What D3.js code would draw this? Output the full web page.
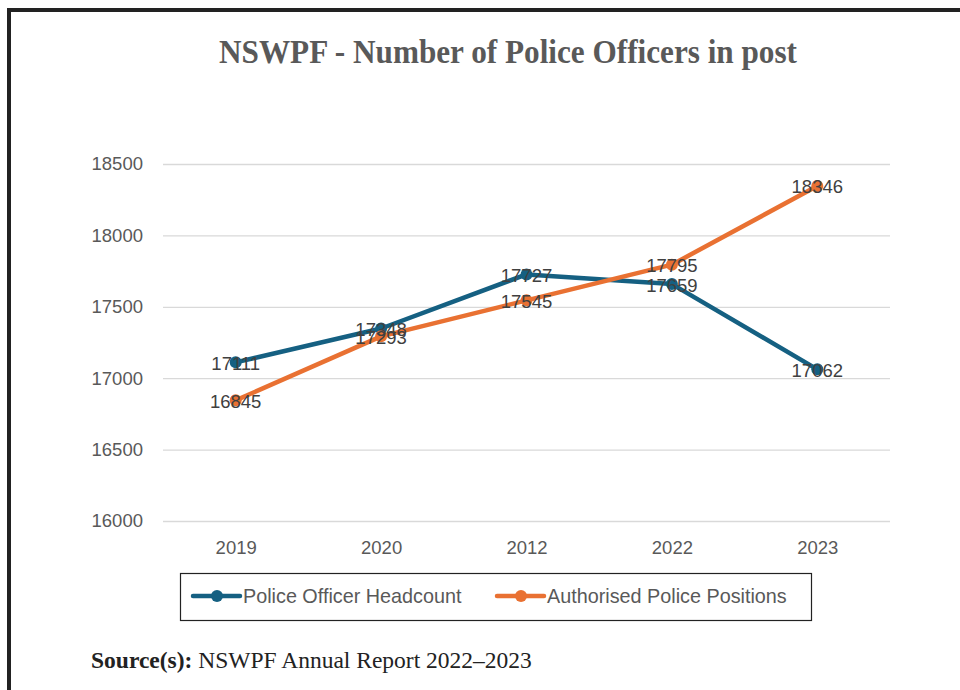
<!DOCTYPE html>
<html>
<head>
<meta charset="utf-8">
<script src="https://cdn.jsdelivr.net/npm/d3@7"></script>
<style>
  body { margin: 0; background: #fff; }
  svg { display: block; }
</style>
</head>
<body>
<svg id="chart"></svg>
<script>
// chart data
const years = ["2019", "2020", "2012", "2022", "2023"];
const headcount = [17111, 17348, 17727, 17659, 17062];
const authorised = [16845, 17293, 17545, 17795, 18346];
const yTicks = [16000, 16500, 17000, 17500, 18000, 18500];
const seriesNames = ["Police Officer Headcount", "Authorised Police Positions"];

const width = 960;
const height = 690;
const colors = ["#156082", "#E97132"];
const sans = "'Liberation Sans', Arial, sans-serif";
const serif = "'Liberation Serif', 'Times New Roman', serif";

const svg = d3.select("#chart")
    .attr("width", width)
    .attr("height", height);

// outer frame (top + left visible)
svg.append("path")
    .attr("d", "M9,690 L9,10 L960,10")
    .attr("fill", "none")
    .attr("stroke", "#222")
    .attr("stroke-width", 4);

// title (narrow, tall serif)
svg.append("text")
    .attr("x", 508)
    .attr("y", 63)
    .attr("text-anchor", "middle")
    .attr("textLength", 578)
    .attr("lengthAdjust", "spacingAndGlyphs")
    .style("font-family", serif)
    .style("font-weight", "bold")
    .style("font-size", "34px")
    .style("fill", "#595959")
    .text("NSWPF - Number of Police Officers in post");

const x = d3.scalePoint()
    .domain(years)
    .range([163, 890])
    .padding(0.5);

const y = d3.scaleLinear()
    .domain([16000, 18500])
    .range([521, 164]);

// gridlines + y labels
const yAxis = svg.append("g")
    .attr("transform", "translate(163,0)")
    .call(d3.axisLeft(y).tickValues(yTicks).tickSize(-727).tickPadding(20).tickFormat(d3.format("d")));
yAxis.select(".domain").remove();
yAxis.selectAll(".tick line").attr("stroke", "#d9d9d9").attr("stroke-width", 1.3);
yAxis.selectAll(".tick text")
    .style("font-family", sans)
    .style("font-size", "18.5px")
    .style("fill", "#595959");

// x labels
const xAxis = svg.append("g")
    .attr("transform", "translate(0,521)")
    .call(d3.axisBottom(x).tickSize(0).tickPadding(20));
xAxis.select(".domain").remove();
xAxis.selectAll(".tick text")
    .style("font-family", sans)
    .style("font-size", "18.5px")
    .style("fill", "#595959");

const series = [headcount, authorised];
const line = d3.line()
    .x((d, i) => x(years[i]))
    .y(d => y(d));

// draw headcount first, then authorised on top
series.forEach((vals, s) => {
    svg.append("path")
        .datum(vals)
        .attr("d", line)
        .attr("fill", "none")
        .attr("stroke", colors[s])
        .attr("stroke-width", 4.5)
        .attr("stroke-linejoin", "round");

    svg.append("g")
        .selectAll("circle")
        .data(vals)
        .enter().append("circle")
        .attr("cx", (d, i) => x(years[i]))
        .attr("cy", d => y(d))
        .attr("r", 6)
        .attr("fill", colors[s]);
});

// data labels centered on the points (they overlap at 2020, as in the original)
series.forEach((vals, s) => {
    svg.append("g")
        .selectAll("text")
        .data(vals)
        .enter().append("text")
        .attr("x", (d, i) => x(years[i]))
        .attr("y", d => y(d) + 1)
        .attr("dy", "0.35em")
        .attr("text-anchor", "middle")
        .style("font-family", sans)
        .style("font-size", "18.5px")
        .style("fill", "#404040")
        .text(d => d);
});

// legend
const legend = svg.append("g");
legend.append("rect")
    .attr("x", 180.5)
    .attr("y", 573.5)
    .attr("width", 631)
    .attr("height", 47)
    .attr("fill", "#fff")
    .attr("stroke", "#222")
    .attr("stroke-width", 1.2);

const legendX = [193, 497];
seriesNames.forEach((name, s) => {
    const lx = legendX[s];
    legend.append("line")
        .attr("x1", lx).attr("x2", lx + 47)
        .attr("y1", 596).attr("y2", 596)
        .attr("stroke", colors[s])
        .attr("stroke-width", 4.5)
        .attr("stroke-linecap", "round");
    legend.append("circle")
        .attr("cx", lx + 24).attr("cy", 596)
        .attr("r", 6)
        .attr("fill", colors[s]);
    legend.append("text")
        .attr("x", lx + 50)
        .attr("y", 596)
        .attr("dy", "0.35em")
        .style("font-family", sans)
        .style("font-size", "19.8px")
        .style("fill", "#595959")
        .text(name);
});

// source note
const src = svg.append("text")
    .attr("x", 91)
    .attr("y", 668)
    .style("font-family", serif)
    .style("font-size", "23.5px")
    .style("fill", "#222");
src.append("tspan").style("font-weight", "bold").text("Source(s): ");
src.append("tspan").text("NSWPF Annual Report 2022\u20132023");
</script>
</body>
</html>
